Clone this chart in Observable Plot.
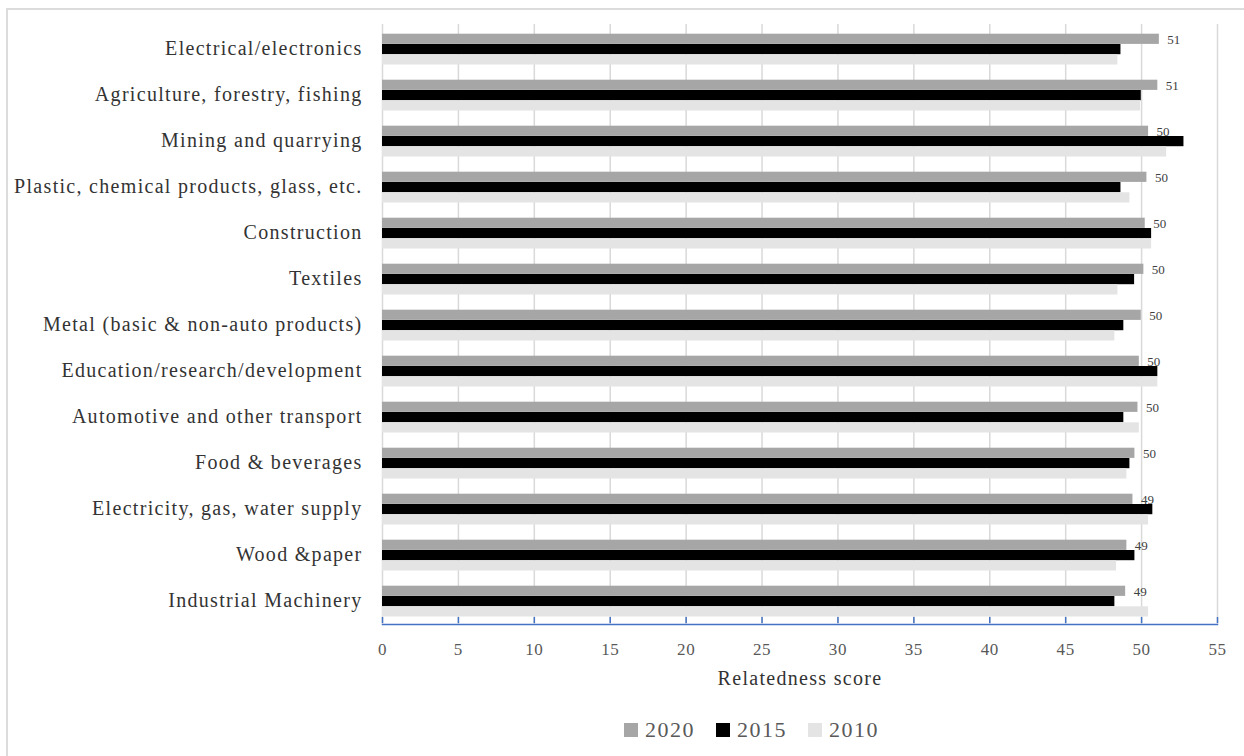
<!DOCTYPE html>
<html>
<head>
<meta charset="utf-8">
<script src="https://cdn.jsdelivr.net/npm/d3@7"></script>
<script src="https://cdn.jsdelivr.net/npm/@observablehq/plot@0.6"></script>
<style>
  html, body { margin: 0; padding: 0; background: #fff; }
  #wrap { position: relative; width: 1244px; height: 756px; overflow: hidden; font-family: "Liberation Serif", serif; }
  #frame { position: absolute; left: 6px; top: 8px; width: 1260px; height: 780px; border: 2px solid #dcdcdc; box-sizing: border-box; }
  #chart { position: absolute; left: 0; top: 0; }
  #legend { position: absolute; left: 624px; top: 717px; display: flex; gap: 21px; font-size: 22px; letter-spacing: 1.5px; color: #595959; }
  #legend span.item { display: inline-flex; align-items: center; gap: 7px; }
  #legend span.sw { display: inline-block; width: 14px; height: 14px; }
  #chart svg g[aria-label="y-axis tick label"] text { letter-spacing: 1.3px; }
  #chart svg g[aria-label="x-axis tick label"] text { letter-spacing: 0.6px; }
  #chart svg g.xlabel text { letter-spacing: 1.3px; }
</style>
</head>
<body>
<div id="wrap">
  <div id="frame"></div>
  <div id="chart"></div>
  <div id="legend"></div>
</div>
<script>
const categories = [
  "Electrical/electronics",
  "Agriculture, forestry, fishing",
  "Mining and quarrying",
  "Plastic, chemical products, glass, etc.",
  "Construction",
  "Textiles",
  "Metal (basic & non-auto products)",
  "Education/research/development",
  "Automotive and other transport",
  "Food & beverages",
  "Electricity, gas, water supply",
  "Wood &paper",
  "Industrial Machinery"
];
const years = ["2020", "2015", "2010"];
const values2020 = [51.17, 51.07, 50.46, 50.35, 50.24, 50.15, 49.98, 49.85, 49.76, 49.56, 49.43, 49.03, 48.95];
const values2015 = [48.64, 49.98, 52.79, 48.64, 50.66, 49.54, 48.83, 51.07, 48.83, 49.23, 50.74, 49.56, 48.24];
const values2010 = [48.44, 49.93, 51.65, 49.23, 50.66, 48.44, 48.24, 51.07, 49.85, 49.03, 50.46, 48.35, 50.46];
const xTicks = [0, 5, 10, 15, 20, 25, 30, 35, 40, 45, 50, 55];
const colors = {"2020": "#a6a6a6", "2015": "#000000", "2010": "#e4e4e4"};

const rows = (vals, year) => categories.map((c, i) => ({category: c, year, value: vals[i]}));
const d2020 = rows(values2020, "2020");
const d2015 = rows(values2015, "2015");
const d2010 = rows(values2010, "2010");
const lastCat = categories[categories.length - 1];

const plot = Plot.plot({
  width: 1244,
  height: 700,
  marginLeft: 382,
  marginRight: 27,
  marginTop: 24,
  marginBottom: 76,
  style: {fontFamily: "Liberation Serif, serif", background: "transparent"},
  x: {domain: [0, 55], ticks: xTicks, label: null},
  y: {domain: categories, padding: 0, label: null},
  marks: [
    Plot.gridX(xTicks, {stroke: "#d9d9d9", strokeOpacity: 1, strokeWidth: 1.5}),
    Plot.barX(d2020, {x: "value", y: "category", fill: colors["2020"], insetTop: 8.7, insetBottom: 27.1}),
    Plot.barX(d2015, {x: "value", y: "category", fill: colors["2015"], insetTop: 19.0, insetBottom: 16.8}),
    Plot.barX(d2010, {x: "value", y: "category", fill: colors["2010"], insetTop: 29.3, insetBottom: 6.5}),
    Plot.text(d2020, {x: "value", y: "category", text: d => d3.format(".0f")(d.value), textAnchor: "start", dx: 8, dy: -9, fontSize: 13, fill: "#404040"}),
    Plot.frame({anchor: "bottom", stroke: "#4472c4", strokeWidth: 1.5}),
    Plot.tickX(xTicks.map(t => ({t, c: lastCat})), {x: "t", y: "c", stroke: "#4472c4", strokeWidth: 1.5, insetTop: 40}),
    Plot.axisX(xTicks, {tickSize: 0, tickPadding: 18, fontSize: 17, fill: "#595959", label: null}),
    Plot.axisY({tickSize: 0, tickPadding: 20, fontSize: 20, fill: "#333333", label: null}),
    Plot.text(["Relatedness score"], {frameAnchor: "bottom", dy: 54, fontSize: 20, fill: "#333333", lineAnchor: "middle", className: "xlabel"})
  ]
});
document.getElementById("chart").appendChild(plot);

const legend = document.getElementById("legend");
years.forEach(y => {
  const item = document.createElement("span");
  item.className = "item";
  const sw = document.createElement("span");
  sw.className = "sw";
  sw.style.background = colors[y];
  item.appendChild(sw);
  item.appendChild(document.createTextNode(y));
  legend.appendChild(item);
});
</script>
</body>
</html>
